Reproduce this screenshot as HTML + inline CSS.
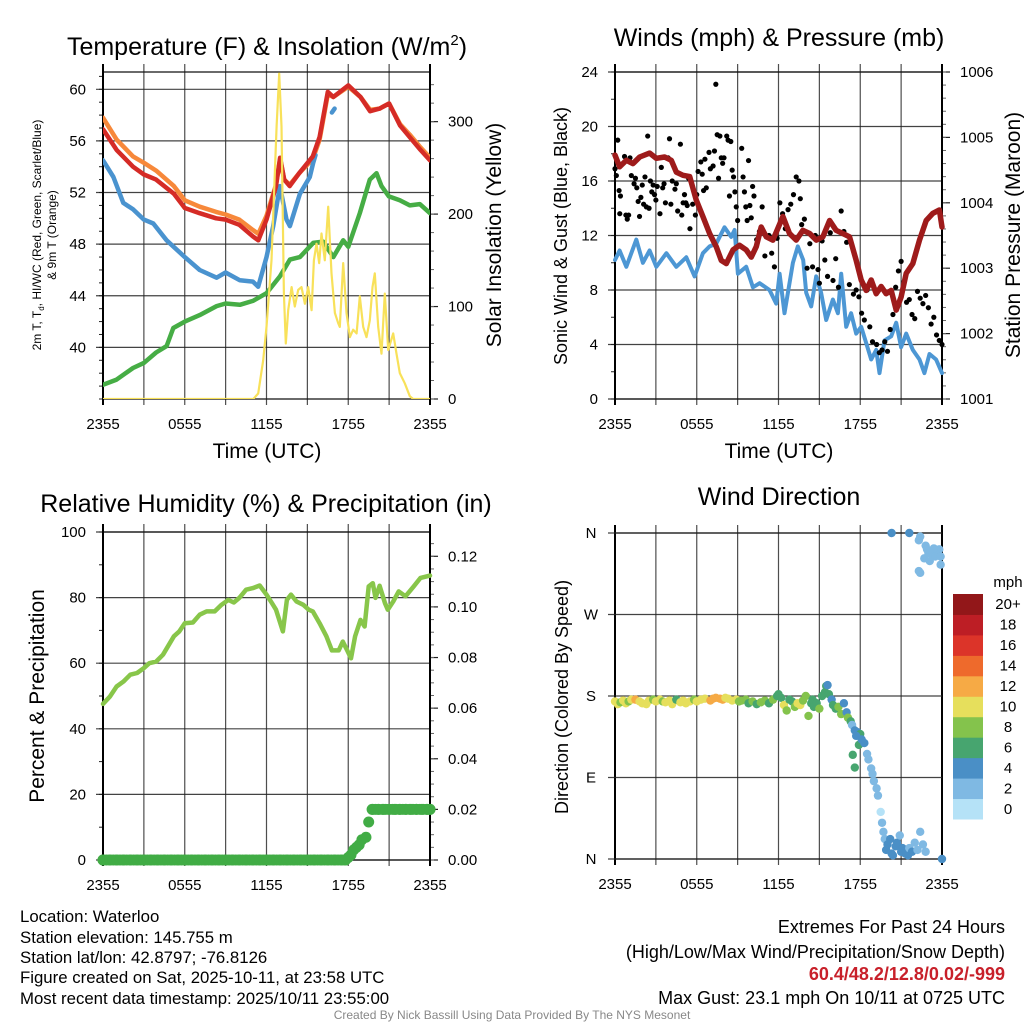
<!DOCTYPE html>
<html><head><meta charset="utf-8"><style>
html,body{margin:0;padding:0;background:#fff;}
svg{display:block;font-family:"Liberation Sans",Arial,sans-serif;}
</style></head><body>
<svg id="fig" width="1024" height="1024" viewBox="0 0 1024 1024" xmlns="http://www.w3.org/2000/svg">
<rect width="1024" height="1024" fill="#fff"/>
<g id="static" font-size="14" fill="#000">
<text x="267" y="55" font-size="25" text-anchor="middle">Temperature (F) &amp; Insolation (W/m<tspan font-size="15" dy="-10">2</tspan><tspan dy="10">)</tspan></text>
<text x="779" y="46" font-size="25" text-anchor="middle">Winds (mph) &amp; Pressure (mb)</text>
<text x="266" y="512" font-size="25" text-anchor="middle">Relative Humidity (%) &amp; Precipitation (in)</text>
<text x="779" y="505" font-size="25" text-anchor="middle">Wind Direction</text>
<text x="267" y="458" font-size="21" text-anchor="middle">Time (UTC)</text>
<text x="779" y="458" font-size="21" text-anchor="middle">Time (UTC)</text>
<text transform="translate(41,235) rotate(-90)" font-size="12" text-anchor="middle">2m T, T<tspan font-size="8" dy="3">d</tspan><tspan dy="-3">, HI/WC (Red, Green, Scarlet/Blue)</tspan></text>
<text transform="translate(56,235) rotate(-90)" font-size="12" text-anchor="middle">&amp; 9m T (Orange)</text>
<text transform="translate(501,235) rotate(-90)" font-size="21" text-anchor="middle">Solar Insolation (Yellow)</text>
<text transform="translate(567,236) rotate(-90)" font-size="18" text-anchor="middle">Sonic Wind &amp; Gust (Blue, Black)</text>
<text transform="translate(1020,235) rotate(-90)" font-size="21" text-anchor="middle">Station Pressure (Maroon)</text>
<text transform="translate(44,696) rotate(-90)" font-size="21" text-anchor="middle">Percent &amp; Precipitation</text>
<text transform="translate(568,697) rotate(-90)" font-size="18" text-anchor="middle">Direction (Colored By Speed)</text>
<g font-size="16.8">
<text x="20" y="922">Location: Waterloo</text>
<text x="20" y="943">Station elevation: 145.755 m</text>
<text x="20" y="963">Station lat/lon: 42.8797; -76.8126</text>
<text x="20" y="983">Figure created on Sat, 2025-10-11, at 23:58 UTC</text>
<text x="20" y="1004">Most recent data timestamp: 2025/10/11 23:55:00</text>
</g>
<g font-size="18" text-anchor="end">
<text x="1005" y="933">Extremes For Past 24 Hours</text>
<text x="1005" y="958">(High/Low/Max Wind/Precipitation/Snow Depth)</text>
<text x="1005" y="980" fill="#c8202a" font-weight="bold">60.4/48.2/12.8/0.02/-999</text>
<text x="1005" y="1004">Max Gust: 23.1 mph On 10/11 at 0725 UTC</text>
</g>
<text x="512" y="1019" font-size="12" fill="#888" text-anchor="middle">Created By Nick Bassill Using Data Provided By The NYS Mesonet</text>
<text x="1008" y="587" font-size="15" text-anchor="middle">mph</text>
</g>
</svg>
<script>
// ---- data ----
const xTickLabels = ["2355","0555","1155","1755","2355"];
const tempTicks = [40,44,48,52,56,60];
const solarTicks = [0,100,200,300];
const windTicks = [0,4,8,12,16,20,24];
const presTicks = [1001,1002,1003,1004,1005,1006];
const rhTicks = [0,20,40,60,80,100];
const precipTicks = [0.00,0.02,0.04,0.06,0.08,0.10,0.12];
const dirTickLabels = ["N","E","S","W","N"];
const dirTicks = [0,90,180,270,360];

const redH = [0,1.0,2.2,3,3.9,5.2,6,7.1,8.3,9,10,11,11.4,12,12.7,13,13.3,13.7,14.4,15.4,15.9,16.5,16.9,18,18.9,19.6,20.3,21,21.8,22.5,23.3,24];
const redT = [56.9,55.3,54.0,53.4,53.0,51.9,50.8,50.4,50.0,49.9,49.5,48.6,48.3,49.9,52.5,54.7,53.0,52.5,53.5,54.8,56.3,59.8,59.4,60.3,59.4,58.3,58.5,58.9,57.2,56.3,55.3,54.5];
const orgH = [0,1.0,2.2,3,3.9,5.2,6,7.1,8.3,9,10,11,11.4,12,12.7,13,13.3,13.7,14.4,15.4,15.9,16.5,16.9,18,18.9,19.6,20.3,21,21.8,22.5,23.3,24];
const orgT = [57.8,56.1,54.8,54.3,53.7,52.5,51.4,50.9,50.5,50.3,49.9,49.1,48.8,50.2,52.6,54.6,53.0,52.6,53.5,54.6,56.1,59.6,59.4,60.2,59.4,58.4,58.5,58.9,57.3,56.5,55.5,54.7];
const blueH = [0,0.76,1.49,2.2,3,3.69,4.67,6,7.1,8.34,9,10.05,11,11.39,12,12.49,12.98,13.47,13.72,14.45,15.18,15.43,15.6];
const blueT = [54.5,53.2,51.2,50.7,49.9,49.6,48.3,47.0,46.0,45.4,45.8,45.2,45.1,44.7,47.0,49.4,52.5,49.9,49.4,51.9,53.2,54.3,54.9];
const blue2H = [16.8,17.0];
const blue2T = [58.2,58.5];
const grnH = [0,1.0,2.2,3,3.9,4.67,5.16,6,7.1,8.34,9,10.05,11,12,12.98,13.72,14.45,15.43,16.16,16.9,17.63,18,18.85,19.58,20.07,20.44,20.98,21.78,22.52,23.25,24];
const grnT = [37.1,37.5,38.4,38.8,39.6,40.1,41.5,42.0,42.5,43.2,43.4,43.3,43.6,44.2,45.5,46.8,47.0,48.1,48.2,47.0,48.3,47.8,50.4,53.0,53.5,52.5,51.7,51.4,51.0,51.1,50.4];
const solH = [0,11.03,11.39,11.76,12.0,12.37,12.74,12.93,13.1,13.28,13.42,13.59,13.84,14.08,14.33,14.57,14.82,15.06,15.31,15.48,15.67,15.87,16.04,16.28,16.53,16.77,17.02,17.26,17.38,17.63,17.87,18.12,18.36,18.61,18.85,19.1,19.34,19.58,19.78,19.95,20.2,20.44,20.68,20.93,21.3,21.54,21.78,22.15,22.52,22.76,24];
const solW = [0,0,6,42,78,150,295,352,295,114,60,96,121,100,118,121,103,121,96,150,168,147,179,150,208,136,93,82,78,147,93,67,75,71,111,78,67,85,121,136,78,49,114,53,71,49,28,17,3,0,0];

const wspdH = [0,0.34,0.83,1.56,2.05,2.54,3.03,3.77,4.5,5.23,5.84,6.45,6.94,7.43,8.04,8.53,8.78,9.02,9.63,10.12,10.61,11.34,11.83,12.08,12.44,13.06,13.42,13.81,14.03,14.4,14.77,15.13,15.5,15.99,16.36,16.6,16.97,17.33,17.7,18.07,18.44,18.8,19.17,19.41,19.78,20.27,20.64,21.0,21.37,21.86,22.35,22.71,23.08,23.57,24];
const wspd = [10.2,10.9,9.7,11.7,10,10.9,9.7,10.7,9.7,10.4,9,10.7,11.2,11.4,12.6,11.9,12.4,9.2,9.7,8.2,8.5,8,7,9.2,6.3,10,11.2,10.2,7.8,6.8,9,7.8,5.8,7.3,6.3,9.2,5.3,6.3,4.8,5.3,4.1,2.9,3.6,1.9,4.3,4.6,5.6,3.8,4.8,3.6,2.9,1.9,3.3,2.9,1.9];
const presH = [0,0.34,0.83,1.32,1.81,2.54,3.03,3.64,4.13,4.5,4.99,5.48,5.97,6.45,6.94,7.43,7.8,8.17,8.66,9.14,9.63,10,10.37,10.73,11.1,11.59,12.32,12.81,13.3,13.79,14.28,14.77,15.26,15.75,16.23,16.72,17.21,17.7,18.07,18.44,18.8,19.17,19.54,19.9,20.27,20.64,21.0,21.37,21.86,22.35,22.84,23.33,23.81,24];
const pres = [1004.73,1004.55,1004.65,1004.6,1004.7,1004.76,1004.68,1004.7,1004.65,1004.47,1004.42,1004.4,1004.04,1003.79,1003.53,1003.33,1003.12,1003.07,1003.28,1003.35,1003.28,1003.17,1003.33,1003.63,1003.48,1003.43,1003.79,1003.53,1003.43,1003.58,1003.53,1003.43,1003.48,1003.73,1003.58,1003.53,1003.48,1003.12,1002.82,1002.66,1002.82,1002.61,1002.72,1002.61,1002.66,1002.36,1002.56,1002.92,1003.07,1003.43,1003.73,1003.84,1003.89,1003.63];
const gustH = [0.0,0.1,0.2,0.3,0.4,0.35,0.7,0.8,0.9,1.0,1.1,1.2,1.4,1.5,1.6,1.7,1.8,1.9,2.0,2.1,2.2,2.3,2.4,2.5,2.6,2.7,2.8,2.9,3.0,3.1,3.3,3.4,3.5,3.6,3.7,3.9,4.0,4.1,4.2,4.4,4.5,4.6,4.8,4.9,5.0,5.1,5.2,5.3,5.4,5.5,5.7,5.9,6.0,6.1,6.3,6.4,6.5,6.6,6.7,6.9,7.0,7.4,7.2,7.3,7.5,7.6,7.7,7.8,7.9,8.0,8.2,8.3,8.4,8.5,8.6,8.7,8.8,8.9,9.0,9.3,9.4,9.5,9.6,9.7,9.8,9.9,10.0,10.1,10.2,10.4,10.6,10.8,11.0,11.3,11.5,11.7,11.9,12.1,12.3,12.5,12.7,12.9,13.1,13.3,13.5,13.6,13.7,13.9,14.1,14.3,14.5,14.7,14.9,15.0,15.2,15.4,15.6,15.8,16.0,16.2,16.4,16.6,16.8,17.0,17.2,17.5,17.7,17.9,18.1,18.3,18.5,18.7,18.9,19.2,19.4,19.6,19.8,20.0,20.2,20.4,20.6,20.8,21.0,21.2,21.4,21.6,21.8,22.0,22.2,22.4,22.6,22.8,23.0,23.2,23.4,23.6,23.8,24.0];
const gust = [16.9,16.4,19.0,15.3,14.9,13.6,17.8,13.5,13.2,13.5,17.7,16.4,15.8,16.2,15.5,14.5,13.4,14.8,15.7,14.3,16.3,14.1,19.3,14.0,16.0,15.2,15.7,15.0,14.6,15.6,13.6,17.0,15.5,15.8,14.4,17.7,19.1,14.3,16.0,15.4,15.8,13.8,18.7,13.5,14.4,15.0,14.4,14.2,16.2,12.5,14.3,13.5,15.0,16.7,17.4,16.5,15.3,17.6,15.5,18.1,16.9,23.1,17.1,18.2,19.4,16.2,19.3,17.7,17.3,17.7,19.3,19.0,14.9,18.9,16.8,16.3,15.2,14.1,13.1,18.4,16.3,15.2,14.1,13.1,17.5,14.2,13.3,15.6,14.9,11.7,12.3,14.1,10.5,12.0,10.7,9.7,11.8,14.4,13.6,12.5,13.9,14.3,15.0,16.3,16.0,14.7,12.8,13.2,9.6,11.4,9.7,12.0,9.5,8.5,11.6,10.2,9.0,12.2,8.7,10.3,8.2,13.8,12.3,11.5,8.4,7.7,8.0,7.5,6.3,5.8,8.0,5.3,4.2,4.0,3.4,3.6,4.2,3.5,5.1,6.2,8.2,9.4,10.1,8.6,7.1,7.3,6.2,5.9,7.9,7.4,7.0,7.6,6.7,5.5,6.0,4.7,4.3,4.0,5.6,4.8,4.3,6.0,3.8,7.1,5.8];
const rhH = [0,0.5,1,1.5,2,2.5,3,3.4,3.9,4.4,5.2,5.6,6,6.6,7.1,7.6,8.2,8.7,9.2,9.6,10,10.5,11,11.5,12,12.4,12.7,13.2,13.5,13.8,14.2,14.7,15.1,15.4,15.9,16.4,16.8,17.3,17.6,17.9,18.2,18.5,18.9,19.2,19.5,19.8,20,20.3,20.7,20.9,21.3,21.7,22.2,22.8,23.3,24];
const rh = [47.6,49.8,52.9,54.4,56.5,57,58.5,60,60.5,62.6,68.2,69.7,72.2,72.4,74.8,75.8,75.8,77.8,79.3,78.5,79.9,82.4,82.9,83.7,80.9,78.3,76.3,69.7,79.3,80.9,78.8,77.8,76.3,75.8,72.2,68.2,63.9,63.9,66.6,64.1,61.5,68.2,73.2,71.2,83.4,84.4,79.9,83.6,78.3,76.3,78.8,81.9,80.4,83.4,86,86.7];
const prcH = [0,0.5,1,1.5,2,2.5,3,3.5,4,4.5,5,5.5,6,6.5,7,7.5,8,8.5,9,9.5,10,10.5,11,11.5,12,12.5,13,13.5,14,14.5,15,15.5,16,16.5,17,17.5,17.8,18.0,18.2,18.4,18.6,18.8,19.0,19.3,19.5,19.8,20.2,20.6,21,21.4,21.8,22.2,22.6,23,23.4,23.8,24];
const prc = [0,0,0,0,0,0,0,0,0,0,0,0,0,0,0,0,0,0,0,0,0,0,0,0,0,0,0,0,0,0,0,0,0,0,0,0,0,0.001,0.002,0.004,0.005,0.006,0.008,0.009,0.015,0.02,0.02,0.02,0.02,0.02,0.02,0.02,0.02,0.02,0.02,0.02,0.02];
const dirH = [0.0,0.2,0.4,0.6,0.8,1.0,1.2,1.5,1.8,2.0,2.3,2.5,2.8,3.0,3.3,3.5,3.7,4.0,4.2,4.5,4.8,5.0,5.2,5.5,5.8,6.0,6.3,6.6,7.0,7.2,7.4,7.7,7.9,8.1,8.3,8.6,8.9,9.1,9.3,9.6,9.8,10.1,10.4,10.7,11.0,11.3,11.6,11.9,12.0,12.2,12.4,12.6,12.8,13.0,13.2,13.4,13.6,13.8,14.0,14.2,14.4,14.5,14.6,14.8,15.0,15.2,15.4,15.5,15.6,15.7,15.9,16.0,16.2,16.4,16.6,16.8,17.0,17.1,17.3,17.4,17.45,17.6,17.6,17.8,18.0,17.9,17.7,18.1,18.3,18.5,18.6,18.8,18.9,19.0,19.2,19.3,19.5,19.6,19.7,19.8,19.9,20.0,20.2,20.3,20.4,20.6,20.7,20.9,21.0,21.1,21.3,21.5,21.6,21.8,22.0,22.2,22.4,22.6,22.8,24,20.3,21.6,22.4,22.3,22.7,22.8,23.0,23.2,23.3,23.5,23.6,23.8,23.9,22.9,23.4,22.4,22.3,23.9,23.1];
const dirDeg = [174,171,173,175,172,174,176,176,174,172,171,175,176,174,176,174,173,175,171,176,173,175,172,174,176,174,176,177,175,177,178,177,176,178,177,175,176,174,175,176,172,174,171,173,175,172,176,180,182,178,170,164,176,174,168,172,170,175,180,158,172,176,168,172,166,180,184,191,192,182,176,170,166,168,160,172,162,156,152,148,115,142,101,140,138,126,136,132,128,116,110,100,94,86,78,70,52,40,30,22,10,16,22,6,4,14,18,26,8,12,6,4,12,8,18,10,30,16,8,0,360,360,356,352,332,346,338,340,336,334,340,342,334,342,343,316,318,325,329];
const dirSpd = [10,10,9,10,10,9,10,12,10,10,10,10,9,10,10,8,10,10,10,7,10,10,10,10,9,10,11,10,12,12,12,13,12,10,10,10,10,8,8,8,7,8,7,8,8,7,8,7,6,6,10,8,6,7,8,10,10,8,8,8,6,6,6,7,8,6,6,6,4,6,4,6,6,8,8,4,4,8,6,3,6,4,6,4,6,6,4,4,4,3,3,3,3,3,3,3,1,3,3,3,4,4,4,4,4,4,4,3,4,4,4,4,3,4,3,3,3,3,3,4,4,4,3,3,3,3,3,3,3,3,3,3,3,3,3,3,3,3,3];
const legendLabels = ["0","2","4","6","8","10","12","14","16","18","20+"];
const legendColors = ["#b5e2f7","#7fb9e3","#4a8fc6","#47a56f","#84c34c","#e6df5c","#f6aa45","#ee6a2c","#dc3429","#bd1e25","#921719"];

// ---- helpers ----
const NS = "http://www.w3.org/2000/svg";
const fig = document.getElementById("fig");
function mk(tag, attrs, parent){
  const e = document.createElementNS(NS, tag);
  for (const k in attrs) e.setAttribute(k, attrs[k]);
  (parent||fig).appendChild(e);
  return e;
}
function lin(d0,d1,r0,r1){ return v => r0 + (v-d0)*(r1-r0)/(d1-d0); }
function pathD(xs, ys, fx, fy){
  return xs.map((h,i)=>(i?"L":"M")+fx(h).toFixed(1)+","+fy(ys[i]).toFixed(1)).join("");
}

function panel(name, x0,x1,y0,y1, lT, lMin, lMax, lFmt, rT, rMin, rMax, rFmt, lMinor, rMinor, xLabels){
  const g = mk("g",{});
  
  
  const fx = lin(0,24,x0,x1), fyL = lin(lMin,lMax,y1,y0), fyR = lin(rMin,rMax,y1,y0);
  for (let h=0; h<=24; h+=3){
    const l = mk("line",{x1:fx(h),x2:fx(h),y1:y0-8,y2:y1+6,stroke:"#222","stroke-width":1.2,"stroke-opacity":0.8},g);
    
    
  }
  lT.forEach(v=>{
    const y = fyL(v);
    const l = mk("line",{x1:x0-7,x2:x1,y1:y,y2:y,stroke:"#222","stroke-width":1.2,"stroke-opacity":0.85},g);
    
    
    const t = mk("text",{x:x0-17,y:y+5,"font-size":15,"text-anchor":"end"},g);
    t.textContent = lFmt(v);
    
    
  });
  if (lMinor) for (let v=lMin+((lMinor-(lMin%lMinor))%lMinor); v<=lMax; v+=lMinor){
    mk("line",{x1:x0-4,x2:x0,y1:fyL(v),y2:fyL(v),stroke:"#222","stroke-width":1},g);
  }
  if (rT){
    rT.forEach(v=>{
      const y = fyR(v);
      mk("line",{x1:x1,x2:x1+8,y1:y,y2:y,stroke:"#222","stroke-width":1.2},g);
      const t = mk("text",{x:x1+18,y:y+5,"font-size":15},g);
      t.textContent = rFmt(v);
      
      
    });
    if (rMinor) for (let v=rMin; v<=rMax+1e-9; v+=rMinor){
      mk("line",{x1:x1,x2:x1+4,y1:fyR(v),y2:fyR(v),stroke:"#666","stroke-width":1},g);
    }
  }
  mk("line",{x1:x0,x2:x1,y1:y0,y2:y0,stroke:"#111","stroke-width":1.3},g);
  mk("line",{x1:x0,x2:x1,y1:y1,y2:y1,stroke:"#111","stroke-width":1.3},g);
  mk("line",{x1:x0,x2:x0,y1:y0-8,y2:y1+6,stroke:"#000","stroke-width":2},g);
  mk("line",{x1:x1,x2:x1,y1:y0-8,y2:y1+6,stroke:"#000","stroke-width":2},g);
  xLabels.forEach((s,i)=>{
    const t = mk("text",{x:fx(i*6),y:y1+30,"font-size":15,"text-anchor":"middle"},g);
    t.textContent = s;
    
    
  });
  return {fx, fyL, fyR};
}

// ---- Panel 1: temperature ----
const p1 = panel("temp",103,430,72,399,tempTicks,36.0,61.34,v=>v,solarTicks,0,353.7,v=>v,1,20,xTickLabels);
const clip1 = mk("clipPath",{id:"c1"}); mk("rect",{x:103,y:72,width:327,height:327},clip1);
function line(name, xs, ys, fx, fy, color, w, clip){
  const p = mk("path",{d:pathD(xs,ys,fx,fy),fill:"none",stroke:color,"stroke-width":w,"stroke-linejoin":"round","stroke-linecap":"round"});
  if (clip) p.setAttribute("clip-path","url(#"+clip+")");
  
  
  return p;
}
line("green-dewpoint-line", grnH, grnT, p1.fx, p1.fyL, "#46ad45", 4.5, "c1");
line("orange-9m-temp-line", orgH, orgT, p1.fx, p1.fyL, "#f7883a", 4.5, "c1");
line("blue-windchill-line", blueH, blueT, p1.fx, p1.fyL, "#4a93cf", 4.5, "c1");
line("blue-windchill-line-2", blue2H, blue2T, p1.fx, p1.fyL, "#4a93cf", 4.5, "c1");
line("red-2m-temp-line", redH, redT, p1.fx, p1.fyL, "#d52b26", 4.5, "c1");
line("yellow-solar-line", solH, solW, p1.fx, p1.fyR, "#f8e15a", 2.2, "c1");

// ---- Panel 2: wind ----
const p2 = panel("wind",615,942,72,399,windTicks,0,24,v=>v,presTicks,1001,1006,v=>v,2,0.2,xTickLabels);
line("blue-wind-speed-line", wspdH, wspd, p2.fx, p2.fyL, "#4d97d4", 4, null);
gustH.forEach((h,i)=>{
  const c = mk("circle",{cx:p2.fx(h),cy:p2.fyL(gust[i]),r:2.6,fill:"#000"});
  
  
});
line("maroon-pressure-line", presH, pres, p2.fx, p2.fyR, "#9e1b1b", 5.5, null);

// ---- Panel 3: RH & precip ----
const p3 = panel("rh",103,430,532,860,rhTicks,0,100,v=>v,precipTicks,0,0.1296,v=>v.toFixed(2),10,0.005,xTickLabels);
line("rh-line", rhH, rh, p3.fx, p3.fyL, "#88c64a", 4.5, null);
prcH.forEach((h,i)=>{
  const c = mk("circle",{cx:p3.fx(h),cy:p3.fyR(prc[i]),r:5.5,fill:"#41ac45"});
  
  
});
for (let h=0; h<=24; h+=0.25){
  const i = prcH.findIndex(v=>v>=h);
  if (prc[i] === 0 || prc[i] === 0.02){
    const c = mk("circle",{cx:p3.fx(h),cy:p3.fyR(prc[i]),r:5.5,fill:"#41ac45"});
    
    
  }
}

// ---- Panel 4: wind direction ----
const p4 = panel("dir",615,942,533,859,[],0,360,v=>v,null,0,0,null,0,0,xTickLabels);
const fyD = lin(0,360,859,533);
dirTicks.forEach((v,i)=>{
  const y = fyD(v);
  mk("line",{x1:608,x2:942,y1:y,y2:y,stroke:"#222","stroke-width":1.2,"stroke-opacity":0.85});
  const t = mk("text",{x:591,y:y+5,"font-size":15,"text-anchor":"middle"});
  t.textContent = dirTickLabels[i];
  
  
});
dirH.forEach((h,i)=>{
  const bin = Math.min(10, Math.floor(dirSpd[i]/2));
  const c = mk("circle",{cx:p4.fx(h),cy:fyD(dirDeg[i]),r:4.2,fill:legendColors[bin]});
  
  
});
// legend
const lgTop = 594, lgBot = 819, nb = legendLabels.length, bh = (lgBot-lgTop)/nb;
legendLabels.forEach((s,i)=>{
  const y = lgBot - (i+1)*bh;
  const r = mk("rect",{x:953,y:y,width:30,height:bh+0.5,fill:legendColors[i]});
  
  
  const t = mk("text",{x:1008,y:y+bh/2+5,"font-size":15,"text-anchor":"middle"});
  t.textContent = s;
  
  
});
</script>
</body></html>
